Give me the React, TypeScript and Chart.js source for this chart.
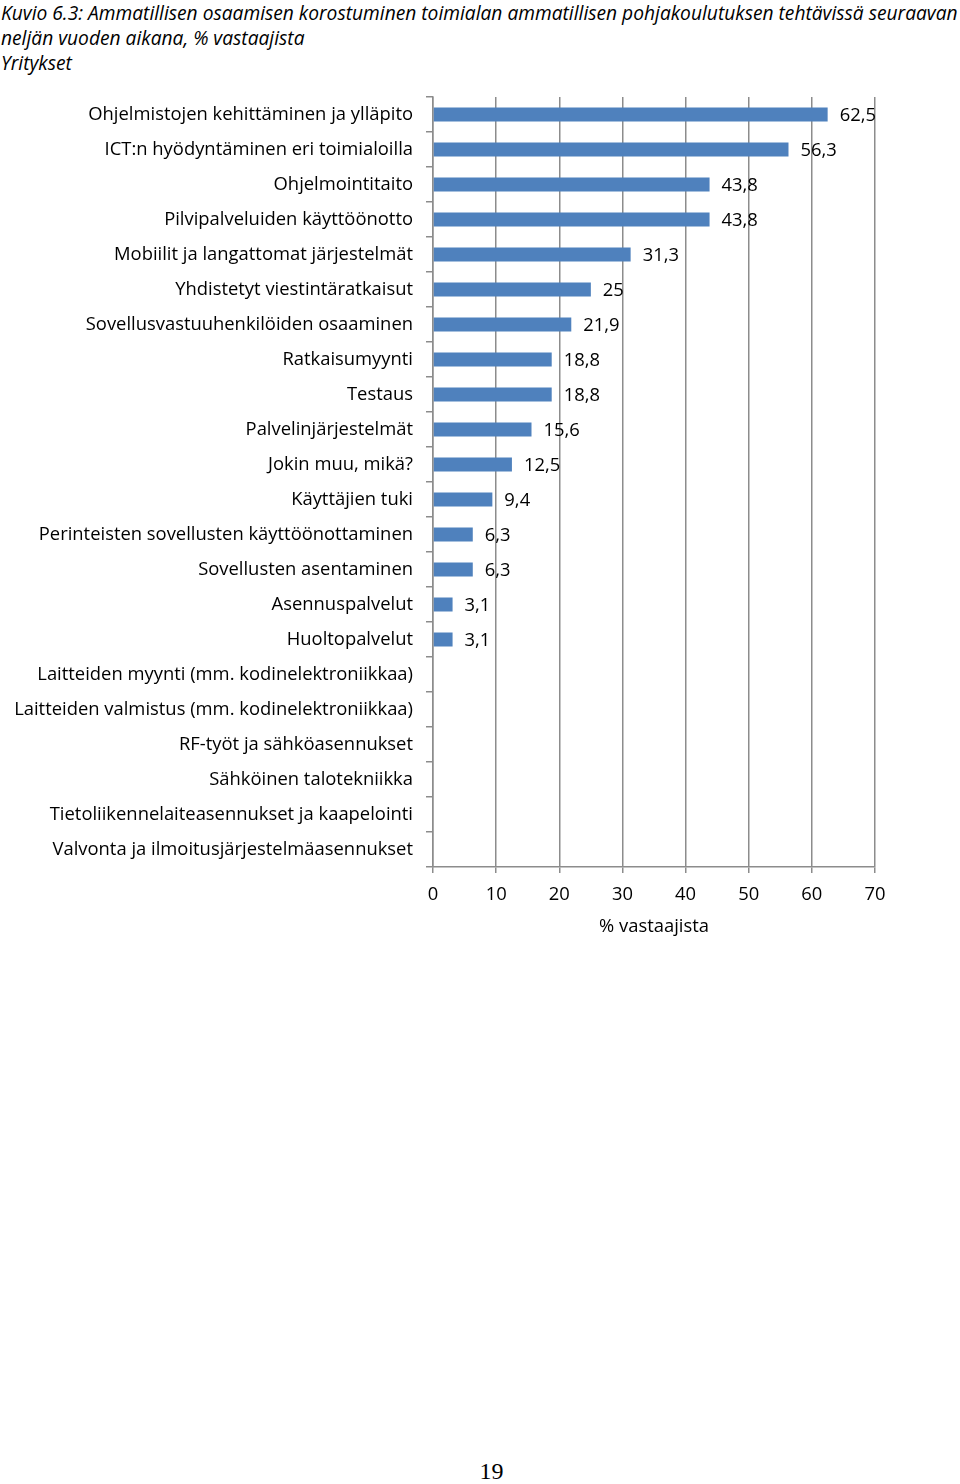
import React, { useEffect, useRef } from "react";
import { Chart, registerables } from "chart.js";

Chart.register(...registerables);

const titleLines = [
  "Kuvio 6.3: Ammatillisen osaamisen korostuminen toimialan ammatillisen pohjakoulutuksen tehtävissä seuraavan",
  "neljän vuoden aikana, % vastaajista",
  "Yritykset",
];

const categories = [
  "Ohjelmistojen kehittäminen ja ylläpito",
  "ICT:n hyödyntäminen eri toimialoilla",
  "Ohjelmointitaito",
  "Pilvipalveluiden käyttöönotto",
  "Mobiilit ja langattomat järjestelmät",
  "Yhdistetyt viestintäratkaisut",
  "Sovellusvastuuhenkilöiden osaaminen",
  "Ratkaisumyynti",
  "Testaus",
  "Palvelinjärjestelmät",
  "Jokin muu, mikä?",
  "Käyttäjien tuki",
  "Perinteisten sovellusten käyttöönottaminen",
  "Sovellusten asentaminen",
  "Asennuspalvelut",
  "Huoltopalvelut",
  "Laitteiden myynti (mm. kodinelektroniikkaa)",
  "Laitteiden valmistus (mm. kodinelektroniikkaa)",
  "RF-työt ja sähköasennukset",
  "Sähköinen talotekniikka",
  "Tietoliikennelaiteasennukset ja kaapelointi",
  "Valvonta ja ilmoitusjärjestelmäasennukset",
];

const values = [
  62.5, 56.3, 43.8, 43.8, 31.3, 25, 21.9, 18.8, 18.8, 15.6, 12.5, 9.4, 6.3, 6.3, 3.1, 3.1,
  0, 0, 0, 0, 0, 0,
];

const xTicks = [0, 10, 20, 30, 40, 50, 60, 70];
const xTitle = "% vastaajista";
const pageNumber = "19";

const FONT = "'Open Sans', sans-serif";
const FS = 18.4;
const GRID = "#8c8c8c";

const valueLabelPlugin = {
  id: "valueLabels",
  afterDatasetsDraw(chart: any) {
    const ctx = chart.ctx;
    const meta = chart.getDatasetMeta(0);
    ctx.save();
    ctx.font = `${FS}px ${FONT}`;
    ctx.fillStyle = "#000";
    ctx.textAlign = "left";
    ctx.textBaseline = "middle";
    meta.data.forEach((bar: any, i: number) => {
      const v = values[i];
      if (!v) return;
      const txt = String(v).replace(".", ",");
      ctx.fillText(txt, bar.x + 12, bar.y + 1);
    });
    ctx.restore();
  },
};

export default function App() {
  const ref = useRef<HTMLCanvasElement | null>(null);

  useEffect(() => {
    if (!ref.current) return;
    const chart = new Chart(ref.current, {
      type: "bar",
      data: {
        labels: categories,
        datasets: [
          {
            data: values,
            backgroundColor: "#4F81BD",
            borderWidth: 0,
            barPercentage: 0.8,
            categoryPercentage: 0.5,
          },
        ],
      },
      options: {
        indexAxis: "y",
        responsive: false,
        animation: false,
        layout: { padding: { top: 7, right: 85, left: 0, bottom: 0 } },
        plugins: {
          legend: { display: false },
          tooltip: { enabled: false },
        },
        scales: {
          x: {
            min: 0,
            max: 70,
            afterBuildTicks: (scale: any) => {
              scale.ticks = xTicks.map((v) => ({ value: v }));
            },
            afterFit: (scale: any) => {
              scale.height = 83;
              scale.paddingLeft = 0;
              scale.paddingRight = 0;
            },
            grid: {
              color: GRID,
              lineWidth: 1.5,
              tickLength: 6,
              drawTicks: true,
            },
            border: { color: GRID, width: 1.5 },
            ticks: {
              color: "#000",
              font: { family: FONT, size: FS },
              padding: 11,
              maxRotation: 0,
            },
            title: {
              display: true,
              text: xTitle,
              color: "#000",
              font: { family: FONT, size: FS },
              padding: { top: 0, bottom: 12 },
            },
          },
          y: {
            afterFit: (scale: any) => {
              scale.width = 433;
              scale.paddingTop = 0;
              scale.paddingBottom = 0;
            },
            grid: {
              drawOnChartArea: false,
              drawTicks: true,
              tickLength: 7,
              color: GRID,
              lineWidth: 1.5,
            },
            border: { color: GRID, width: 1.5 },
            ticks: {
              color: "#000",
              font: { family: FONT, size: FS },
              padding: 13,
              autoSkip: false,
            },
          },
        },
      },
      plugins: [valueLabelPlugin],
    });
    return () => chart.destroy();
  }, []);

  return (
    <div
      style={{
        position: "absolute",
        left: 0,
        top: 0,
        width: 960,
        height: 1484,
        background: "#fff",
        overflow: "hidden",
      }}
    >
      <div
        style={{
          position: "absolute",
          left: 1,
          top: 0,
          fontFamily: FONT,
          fontStyle: "italic",
          fontSize: 19.2,
          lineHeight: "25px",
          color: "#000",
          whiteSpace: "nowrap",
        }}
      >
        {titleLines.map((l, i) => (
          <div key={i}>{l}</div>
        ))}
      </div>
      <canvas
        ref={ref}
        width={960}
        height={860}
        style={{ position: "absolute", left: 0, top: 90, width: 960, height: 860 }}
      />
      <div
        style={{
          position: "absolute",
          left: 0,
          width: 983,
          top: 1456,
          textAlign: "center",
          fontFamily: "'Liberation Serif', 'Times New Roman', serif",
          fontSize: 24,
          lineHeight: "30px",
          color: "#000",
        }}
      >
        {pageNumber}
      </div>
    </div>
  );
}
